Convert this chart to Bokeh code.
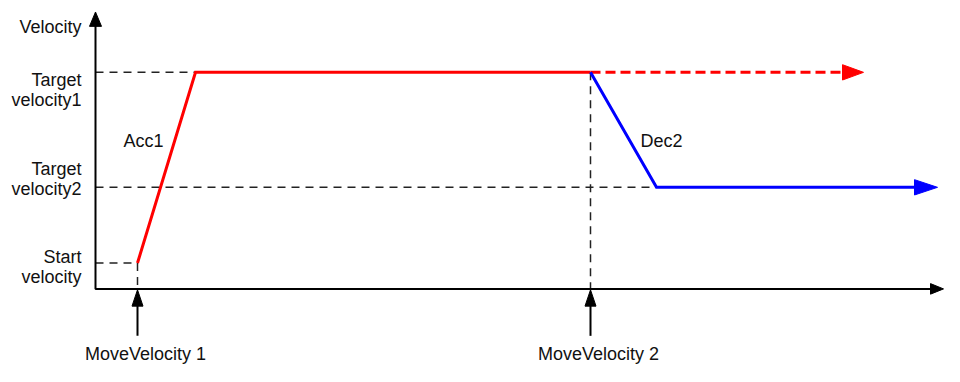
from bokeh.plotting import figure
from bokeh.models import Range1d
from bokeh.core.properties import value
from bokeh.embed import file_html
from bokeh.resources import INLINE

# ---- diagram data (pixel-like schematic units) ----
level_names = ["Start velocity", "Target velocity2", "Target velocity1"]
level_y = [274, 195, 75]
level_label_top = ["Start", "Target", "Target"]
level_label_bottom = ["velocity", "velocity2", "velocity1"]
level_label_y = [268, 176, 83]          # baseline of first text line

cmd_labels = ["MoveVelocity 1", "MoveVelocity 2"]
cmd_x = [137, 590]                      # command instants
ramp_end_x = [195, 656]                 # end of acceleration / deceleration
ramp_labels = ["Acc1", "Dec2"]
ramp_label_x = [123, 640]
ramp_label_y = [147, 147]
continue_tip_x = [863, 937]             # arrow tips of continued velocities

origin_x, origin_y = 95, 301
x_axis_tip, y_axis_tip = 943, 12
cmd_arrow_bottom = 350
cmd_label_y = 369

FONT = value("Liberation Sans")
FS = "18px"

W, H = 944, 366
p = figure(width=W, height=H, output_backend="svg", toolbar_location=None,
           x_range=Range1d(0, W), y_range=Range1d(382, 0),
           min_border=0, outline_line_color=None, background_fill_color="white")
p.xaxis.visible = False
p.yaxis.visible = False
p.grid.visible = False


def head(tx, ty, ux, uy, length, width):
    bx, by = tx - length * ux, ty - length * uy
    nx, ny = -uy, ux
    return ([tx, bx + nx * width / 2, bx - nx * width / 2],
            [ty, by + ny * width / 2, by - ny * width / 2])


start_v, tgt2, tgt1 = level_y

# ---- dashed guide lines ----
dash = dict(line_color="#222222", line_width=1.5, line_dash="8 6")
p.line([origin_x, ramp_end_x[0]], [tgt1, tgt1], **dash)
p.line([origin_x, ramp_end_x[1]], [tgt2, tgt2], **dash)
p.line([origin_x, cmd_x[0]], [start_v, start_v], **dash)
p.line([cmd_x[0], cmd_x[0]], [start_v, origin_y], **dash)
p.line([cmd_x[1], cmd_x[1]], [tgt1, origin_y], **dash)

# ---- velocity profiles ----
red_head_len, blue_head_len = 21, 23
p.line([cmd_x[0], ramp_end_x[0], cmd_x[1]], [start_v, tgt1, tgt1],
       line_color="#ff0000", line_width=3, line_join="miter")
p.line([cmd_x[1], continue_tip_x[0] - red_head_len], [tgt1, tgt1],
       line_color="#ff0000", line_width=3, line_dash="10 5")
hx, hy = head(continue_tip_x[0], tgt1, 1, 0, red_head_len, 16)
p.patch(hx, hy, fill_color="#ff0000", line_color="#ff0000")

p.line([cmd_x[1], ramp_end_x[1], continue_tip_x[1] - blue_head_len], [tgt1, tgt2, tgt2],
       line_color="#0000ff", line_width=3, line_join="miter")
hx, hy = head(continue_tip_x[1], tgt2, 1, 0, blue_head_len, 16)
p.patch(hx, hy, fill_color="#0000ff", line_color="#0000ff")

# ---- axes ----
p.line([origin_x, origin_x, x_axis_tip - 12], [y_axis_tip + 14, origin_y, origin_y],
       line_color="black", line_width=2)
hx, hy = head(origin_x, y_axis_tip, 0, -1, 15, 12)
p.patch(hx, hy, fill_color="black", line_color="black")
hx, hy = head(x_axis_tip, origin_y, 1, 0, 13, 11)
p.patch(hx, hy, fill_color="black", line_color="black")

# ---- command arrows ----
for cx in cmd_x:
    p.line([cx, cx], [cmd_arrow_bottom, origin_y + 16], line_color="black", line_width=2)
    hx, hy = head(cx, origin_y + 1, 0, -1, 17, 11)
    p.patch(hx, hy, fill_color="black", line_color="black")

# ---- texts ----
txt = dict(text_font=FONT, text_font_size=FS, text_color="#111111",
           text_baseline="alphabetic")
p.text(x=[81], y=[28], text=["Velocity"], text_align="right", **txt)
p.text(x=[81] * 3, y=level_label_y, text=level_label_top, text_align="right", **txt)
p.text(x=[81] * 3, y=[v + 21 for v in level_label_y], text=level_label_bottom,
       text_align="right", **txt)
p.text(x=ramp_label_x, y=ramp_label_y, text=ramp_labels, text_align="left", **txt)
p.text(x=[c + 8 for c in cmd_x], y=[cmd_label_y] * 2, text=cmd_labels,
       text_align="center", **txt)

open("out.html", "w").write(file_html(p, INLINE))
